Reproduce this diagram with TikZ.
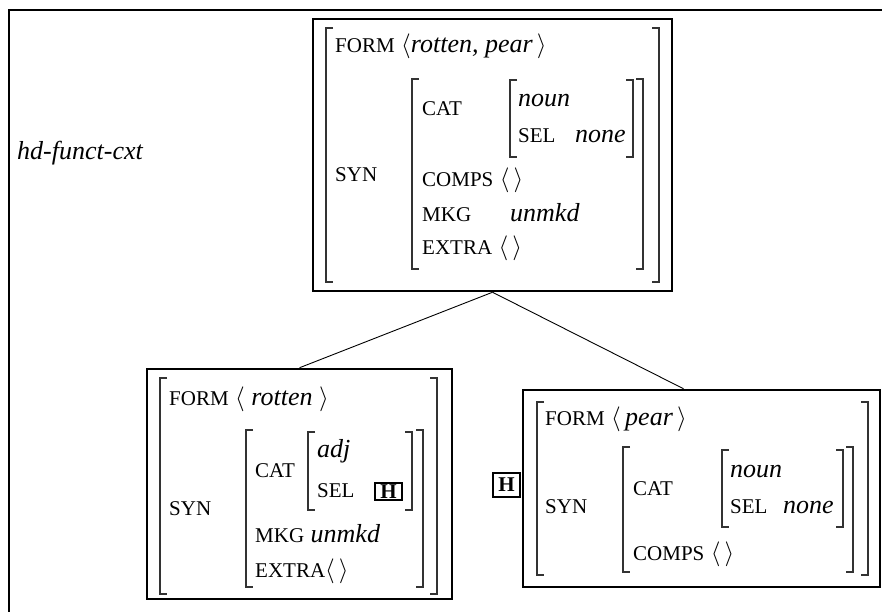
\documentclass[tikz,border=0pt]{standalone}
\usepackage{fontspec}
\setmainfont{Liberation Serif}
\usetikzlibrary{positioning}

% feature names and values
\newcommand{\ft}[1]{{\fontsize{21}{24}\selectfont #1}}
\newcommand{\vl}[1]{{\itshape #1}}
% square brackets: x, top, bottom
\newcommand{\lbrak}[3]{\draw[brack] (#1+7,#2) -- (#1,#2) -- (#1,#3) -- (#1+7,#3);}
\newcommand{\rbrak}[3]{\draw[brack] (#1-7,#2) -- (#1,#2) -- (#1,#3) -- (#1-7,#3);}

\begin{document}
\begin{tikzpicture}[
		x=1pt, y=-1pt,
		every node/.style={inner sep=0pt, font=\fontsize{26}{30}\selectfont},
		txt/.style={anchor=base west},
		avmbox/.style={draw, line width=2.5pt},
		brack/.style={line width=1.4pt, black!80},
		headbox/.style={draw, line width=1.6pt, minimum width=27pt, font=\fontsize{21}{24}\selectfont\bfseries}
	]
	\useasboundingbox (0,0) rectangle (882,612);

	% Outer frame
	\draw[line width=2.5pt] (9,612) -- (9,10) -- (882,10);
	\node[txt] (cxt) at (17,160) {\vl{hd-funct-cxt}};

	% Mother box
	\node[avmbox, minimum width=359pt, minimum height=272pt] (mother) at (492.5,155) {};
	\lbrak{326}{28}{282} \rbrak{659}{28}{282}
	\lbrak{412}{79}{269} \rbrak{643}{79}{269}
	\lbrak{510}{80}{157} \rbrak{633}{80}{157}
	\node[txt] (mform) at (335,53) {\ft{FORM} $\langle$\vl{rotten, pear}$\,\rangle$};
	\node[txt] (msyn) at (335,182) {\ft{SYN}};
	\node[txt] (mcat) at (422,116) {\ft{CAT}};
	\node[txt] (mnoun) at (518,107) {\vl{noun}};
	\node[txt] (msel) at (518,143) {\ft{SEL}};
	\node[txt] (mnone) at (575,143) {\vl{none}};
	\node[txt] (mcomps) at (422,187) {\ft{COMPS} $\langle\,\rangle$};
	\node[txt] (mmkg) at (422,222) {\ft{MKG}};
	\node[txt] (munmkd) at (510,222) {\vl{unmkd}};
	\node[txt] (mextra) at (422,254) {\ft{EXTRA} $\langle\,\rangle$};

	% Functor daughter
	\node[avmbox, minimum width=305pt, minimum height=230pt] (funct) at (299.5,484) {};
	\lbrak{160}{378}{594} \rbrak{437}{378}{594}
	\lbrak{246}{430}{587} \rbrak{423}{430}{587}
	\lbrak{308}{432}{510} \rbrak{412}{432}{510}
	\node[txt] (fform) at (169,405) {\ft{FORM} $\langle$ \vl{rotten} $\rangle$};
	\node[txt] (fsyn) at (169,515) {\ft{SYN}};
	\node[txt] (fcat) at (255,477) {\ft{CAT}};
	\node[txt] (fadj) at (317,457) {\vl{adj}};
	\node[txt] (fsel) at (317,497) {\ft{SEL}};
	\node[headbox, minimum height=17pt] (fhd) at (388.5,491.5) {H};
	\node[txt] (fmkg) at (255,542) {\ft{MKG} \vl{unmkd}};
	\node[txt] (fextra) at (255,577) {\ft{EXTRA}$\langle\,\rangle$};

	% Head daughter
	\node[avmbox, minimum width=357pt, minimum height=197pt] (head) at (701.5,488.5) {};
	\lbrak{537}{402}{575} \rbrak{868}{402}{575}
	\lbrak{623}{447}{572} \rbrak{853}{447}{572}
	\lbrak{722}{450}{527} \rbrak{843}{450}{527}
	\node[txt] (hform) at (545,425) {\ft{FORM} $\langle$\,\vl{pear}\,$\rangle$};
	\node[txt] (hsyn) at (545,513) {\ft{SYN}};
	\node[txt] (hcat) at (633,495) {\ft{CAT}};
	\node[txt] (hnoun) at (730,477) {\vl{noun}};
	\node[txt] (hsel) at (730,513) {\ft{SEL}};
	\node[txt] (hnone) at (783,513) {\vl{none}};
	\node[txt] (hcomps) at (633,560) {\ft{COMPS} $\langle\,\rangle$};
	\node[headbox, minimum height=24pt] (hhd) at (506.5,485) {H};

	% Tree lines
	\draw[line width=0.9pt] (mother.south) -- (funct.north);
	\draw[line width=0.9pt] (mother.south) -- ([xshift=-18pt]head.north);
\end{tikzpicture}
\end{document}
